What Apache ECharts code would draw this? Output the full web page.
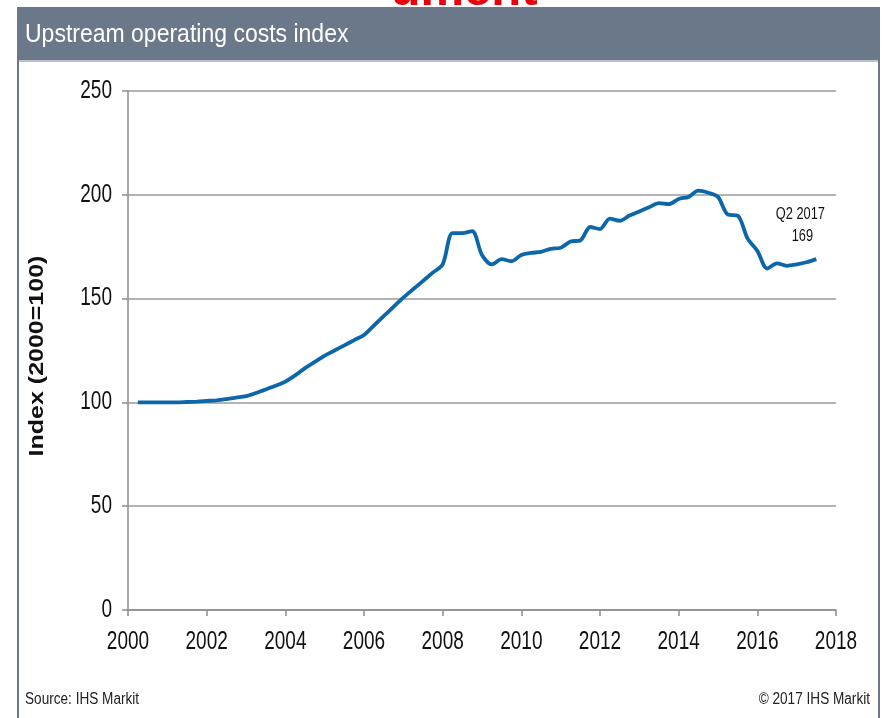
<!DOCTYPE html>
<html>
<head>
<meta charset="utf-8">
<script src="https://cdn.jsdelivr.net/npm/echarts@6/dist/echarts.min.js"></script>
<style>
  html, body { margin: 0; padding: 0; background: #fff; }
  #main { width: 884px; height: 718px; }
</style>
</head>
<body>
<div id="main"></div>
<script>
  // quarterly time points (decimal years) and the index values
  var quarterTimes = [
    2000.25, 2000.5, 2000.75, 2001.0, 2001.25, 2001.5, 2001.75, 2002.0,
    2002.25, 2002.5, 2002.75, 2003.0, 2003.25, 2003.5, 2003.75, 2004.0,
    2004.25, 2004.5, 2004.75, 2005.0, 2005.25, 2005.5, 2005.75, 2006.0,
    2006.25, 2006.5, 2006.75, 2007.0, 2007.25, 2007.5, 2007.75, 2008.0,
    2008.25, 2008.5, 2008.75, 2009.0, 2009.25, 2009.5, 2009.75, 2010.0,
    2010.25, 2010.5, 2010.75, 2011.0, 2011.25, 2011.5, 2011.75, 2012.0,
    2012.25, 2012.5, 2012.75, 2013.0, 2013.25, 2013.5, 2013.75, 2014.0,
    2014.25, 2014.5, 2014.75, 2015.0, 2015.25, 2015.5, 2015.75, 2016.0,
    2016.25, 2016.5, 2016.75, 2017.0, 2017.25, 2017.5
  ];
  var indexValues = [
    100, 100, 100, 100, 100, 100.2, 100.4, 100.7,
    101, 101.6, 102.3, 103, 104.5, 106.2, 108, 110,
    113, 116.5, 119.5, 122.5, 125, 127.5, 130, 132.5,
    137, 141.5, 146, 150.5, 154.5, 158.5, 162.5, 166.5,
    181.5, 181.5, 182.5, 171, 166.5, 169, 168, 171,
    172, 172.5, 174, 174.5, 177.5, 178, 184.5, 183.5,
    188.5, 187.5, 190, 192, 194, 196, 195.5, 198,
    199, 202, 201, 199, 190.5, 190, 179, 173,
    164.5, 167, 165.8, 166.5, 167.5, 169
  ];
  var yTicks = [0, 50, 100, 150, 200, 250];
  var xTicks = [2000, 2002, 2004, 2006, 2008, 2010, 2012, 2014, 2016, 2018];
  var lastLabel = ['Q2 2017', '169'];

  var lineData = quarterTimes.map(function (t, i) { return [t, indexValues[i]]; });
  var lastIdx = lineData.length - 1;

  var sans = '"Liberation Sans", Arial, sans-serif';
  var frameColor = '#6b7889';
  var squeeze = 0.76;   // the source uses a narrow face

  var chart = echarts.init(document.getElementById('main'));
  chart.setOption({
    backgroundColor: '#fff',
    animation: false,
    grid: { left: 128, right: 48, top: 91, bottom: 108 },
    xAxis: {
      type: 'value',
      min: xTicks[0],
      max: xTicks[xTicks.length - 1],
      interval: 2,
      axisLine: { show: true, onZero: false, lineStyle: { color: '#8c8c8c', width: 1.5 } },
      axisTick: { show: true, length: 6, lineStyle: { color: '#8c8c8c', width: 1.5 } },
      splitLine: { show: false },
      axisLabel: { show: false }
    },
    yAxis: {
      type: 'value',
      min: yTicks[0],
      max: yTicks[yTicks.length - 1],
      interval: 50,
      axisLine: { show: true, lineStyle: { color: '#8c8c8c', width: 1.5 } },
      axisTick: { show: true, length: 6, lineStyle: { color: '#8c8c8c', width: 1.5 } },
      splitLine: { show: true, lineStyle: { color: '#9a9a9a', width: 1.5 } },
      axisLabel: { show: false }
    },
    series: [{
      type: 'line',
      data: lineData,
      smooth: 0.3,
      showSymbol: false,
      lineStyle: { color: '#0b66aa', width: 3.8 }
    }]
  });

  // positions for the narrow labels come from the chart's own scales
  var axisY = chart.convertToPixel({ yAxisIndex: 0 }, yTicks[0]);
  var axisX = chart.convertToPixel({ xAxisIndex: 0 }, xTicks[0]);
  var lastPt = chart.convertToPixel({ seriesIndex: 0 }, lineData[lastIdx]);

  var graphics = [
    // red heading cut off at the top
    {
      type: 'text', x: 464, y: -33, z: 1,
      style: { text: 'ument', fill: '#e8000b', font: 'bold 49px ' + sans, align: 'center', verticalAlign: 'top' }
    },
    // frame and title bar
    { type: 'rect', z: 2, shape: { x: 17, y: 7, width: 2, height: 711 }, style: { fill: frameColor } },
    { type: 'rect', z: 2, shape: { x: 878, y: 7, width: 2, height: 711 }, style: { fill: frameColor } },
    { type: 'rect', z: 2, shape: { x: 17, y: 7, width: 863, height: 54 }, style: { fill: frameColor } },
    { type: 'rect', z: 2, shape: { x: 19, y: 60, width: 859, height: 2 }, style: { fill: '#b9c2cc' } },
    {
      type: 'text', z: 3, x: 25, y: 35, scaleX: 0.92,
      style: { text: 'Upstream operating costs index', fill: '#fff', font: '25px ' + sans, verticalAlign: 'middle' }
    },
    // y axis name
    {
      type: 'text', z: 3, x: 37, y: 356, rotation: Math.PI / 2, scaleX: 1.25,
      style: { text: 'Index (2000=100)', fill: '#111', font: 'bold 20px ' + sans, align: 'center', verticalAlign: 'middle' }
    },
    // footer
    {
      type: 'text', z: 3, x: 25, y: 700, scaleX: 0.85,
      style: { text: 'Source: IHS Markit', fill: '#222', font: '16px ' + sans, verticalAlign: 'middle' }
    },
    {
      type: 'text', z: 3, x: 870, y: 700, scaleX: 0.85,
      style: { text: '© 2017 IHS Markit', fill: '#222', font: '16px ' + sans, align: 'right', verticalAlign: 'middle' }
    },
    // end-point annotation
    {
      type: 'text', z: 3, x: lastPt[0] - 16, y: lastPt[1] - 45, scaleX: 0.8,
      style: { text: lastLabel[0], fill: '#111', font: '16px ' + sans, align: 'center', verticalAlign: 'middle' }
    },
    {
      type: 'text', z: 3, x: lastPt[0] - 14, y: lastPt[1] - 23, scaleX: 0.8,
      style: { text: lastLabel[1], fill: '#111', font: '16px ' + sans, align: 'center', verticalAlign: 'middle' }
    }
  ];

  xTicks.forEach(function (v) {
    graphics.push({
      type: 'text', z: 3, x: chart.convertToPixel({ xAxisIndex: 0 }, v), y: axisY + 32, scaleX: squeeze,
      style: { text: String(v), fill: '#111', font: '25px ' + sans, align: 'center', verticalAlign: 'middle' }
    });
  });
  yTicks.forEach(function (v) {
    graphics.push({
      type: 'text', z: 3, x: axisX - 16, y: chart.convertToPixel({ yAxisIndex: 0 }, v), scaleX: squeeze,
      style: { text: String(v), fill: '#111', font: '25px ' + sans, align: 'right', verticalAlign: 'middle' }
    });
  });

  chart.setOption({ graphic: graphics });
</script>
</body>
</html>
